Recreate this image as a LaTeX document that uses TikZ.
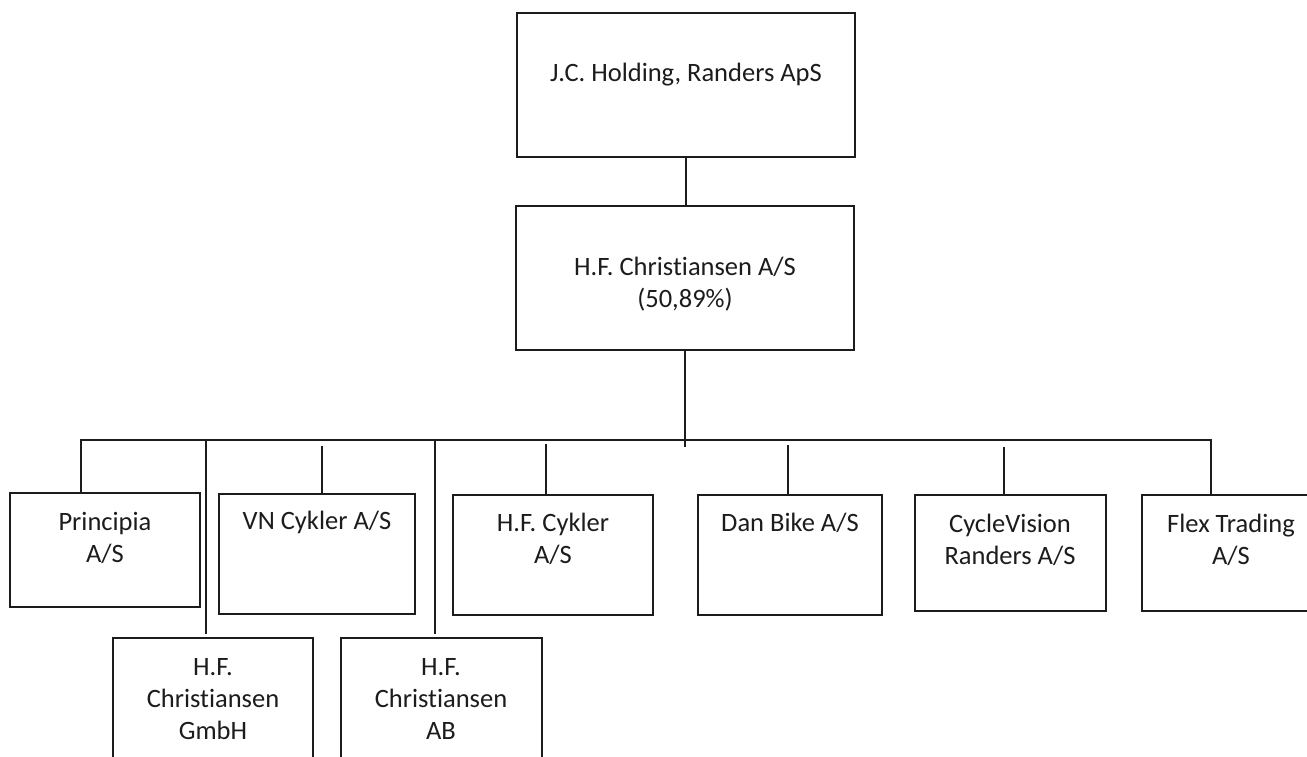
\documentclass[tikz,border=0pt]{standalone}
\usepackage{fontspec}
\setmainfont[Ligatures=NoCommon]{Carlito}
\definecolor{ink}{HTML}{1C1C1C}
\begin{document}
\begin{tikzpicture}[x=1pt,y=-1pt,
  box/.style={draw=ink, line width=1.8pt, rectangle, inner sep=0pt},
  txt/.style={anchor=base, align=center, inner sep=0pt, text=ink,
    font=\fontsize{26.5}{32}\selectfont},
  conn/.style={draw=ink, line width=1.8pt}]
\clip (0,0) rectangle (1307,756);
\fill[white] (0,0) rectangle (1307,756);
% boxes
\node[box, minimum width=338pt, minimum height=144pt] (top) at (686,85) {};
\node[box, minimum width=338pt, minimum height=144pt] (hfc) at (685,278) {};
\node[box, minimum width=190pt, minimum height=114pt] (principia) at (105,550) {};
\node[box, minimum width=196pt, minimum height=120pt] (vn) at (317,554) {};
\node[box, minimum width=200pt, minimum height=162pt] (gmbh) at (213,719) {};
\node[box, minimum width=201pt, minimum height=162pt] (ab) at (441.5,719) {};
\node[box, minimum width=200pt, minimum height=120pt] (cykler) at (553,555) {};
\node[box, minimum width=184pt, minimum height=120pt] (dan) at (790,555) {};
\node[box, minimum width=191pt, minimum height=116pt] (cv) at (1010.5,553) {};
\node[box, minimum width=178pt, minimum height=116pt] (flex) at (1231,553) {};
% texts (base anchor = baseline of the last line)
\node[txt] (ttop) at (686,81) {J.C. Holding, Randers ApS};
\node[txt] (thfc) at (685,307) {H.F. Christiansen A/S\\(50,89\%)};
\node[txt] (tprin) at (105,562) {Principia\\A/S};
\node[txt] (tvn) at (317,529) {VN Cykler A/S};
\node[txt] (tgmbh) at (213,739) {H.F.\\Christiansen\\GmbH};
\node[txt] (tab) at (441,739) {H.F.\\Christiansen\\AB};
\node[txt] (tcyk) at (553,563) {H.F. Cykler\\A/S};
\node[txt] (tdan) at (790,531) {Dan Bike A/S};
\node[txt] (tcv) at (1010,564) {CycleVision\\Randers A/S};
\node[txt] (tflex) at (1231,564) {Flex Trading\\A/S};
% connectors
\coordinate (trunk) at (685,447);
\coordinate (busL) at (81,440);
\coordinate (busR) at (1211,440);
\coordinate (dg) at (206,440);
\coordinate (da) at (435,440);
\coordinate (dvn) at (322,446);
\coordinate (dcyk) at (546,444);
\coordinate (ddan) at (788,445);
\coordinate (dcv) at (1004,447);
\draw[conn] (top.south) -- (top.south |- hfc.north);
\draw[conn] (hfc.south) -- (trunk);
\draw[conn] (principia.north -| busL) -- (busL) -- (busR) -- (busR |- flex.north);
\draw[conn] (dg) -- ([yshift=3pt]dg |- gmbh.north);
\draw[conn] (da) -- ([yshift=3pt]da |- ab.north);
\draw[conn] (dvn) -- (dvn |- vn.north);
\draw[conn] (dcyk) -- (dcyk |- cykler.north);
\draw[conn] (ddan) -- (ddan |- dan.north);
\draw[conn] (dcv) -- (dcv |- cv.north);
\end{tikzpicture}
\end{document}
